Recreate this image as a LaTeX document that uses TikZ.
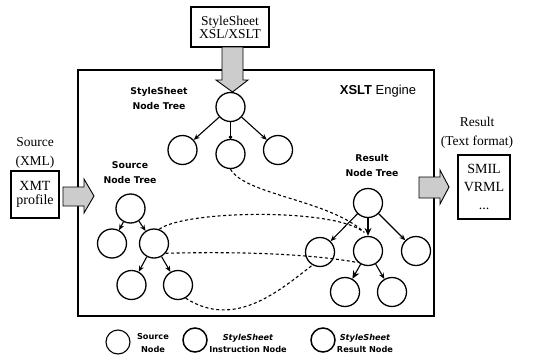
\documentclass[tikz,border=0pt]{standalone}
\usepackage{fontspec}
\setmainfont{Liberation Serif}
\newfontfamily\dvs{DejaVu Sans}
\newfontfamily\lsans{Liberation Sans}
\usetikzlibrary{arrows.meta,calc}
\begin{document}
\begin{tikzpicture}[x=1pt,y=-1pt,
  tn/.style={circle,draw,line width=1.3pt,minimum size=29pt,inner sep=0pt},
  lgc/.style={circle,draw,line width=1.1pt,minimum size=24pt,inner sep=0pt},
  edge/.style={line width=1.1pt,-{Stealth[length=6pt,width=5pt]}},
  bigedge/.style={line width=1.1pt,-{Stealth[length=8pt,width=7pt]}},
  dotedge/.style={line width=1.1pt,-{Circle[length=3.5pt]}},
  dl/.style={line width=1.1pt,dash pattern=on 3pt off 2.5pt},
  fat/.style={draw,line width=0.9pt,fill=gray!40},
  sbox/.style={draw,line width=1.1pt,align=center,inner sep=0pt},
  serlbl/.style={align=center,inner sep=0pt,font=\fontsize{13.5}{19}\selectfont},
  lbl/.style={align=center,inner sep=0pt,font=\dvs\bfseries\fontsize{9.3}{15}\selectfont},
  lgt/.style={align=center,inner sep=0pt,font=\dvs\bfseries\fontsize{8.2}{12.5}\selectfont}
]
\useasboundingbox (0,0) rectangle (535,356);

% engine frame
\node (eng) [draw,line width=1.4pt,minimum width=356pt,minimum height=246pt,inner sep=0pt] at (256,193) {};
\node (englbl) [inner sep=0pt,font=\lsans\fontsize{13}{13}\selectfont] at (378,91) {\textbf{XSLT} Engine};

% outside boxes
\node (ssbox) [sbox,minimum width=78pt,minimum height=40pt,font=\fontsize{13.5}{13}\selectfont] at (230,27) {StyleSheet\\XSL/XSLT};
\node (srclbl) [serlbl] at (35,152.5) {Source\\(XML)};
\node (xmt) [sbox,minimum width=48pt,minimum height=47pt,font=\fontsize{14}{14}\selectfont] at (35,194.5) {XMT\\profile};
\node (reslbl) [serlbl] at (477,133) {Result\\(Text format)};
\node (smil) [sbox,minimum width=52pt,minimum height=64pt,font=\fontsize{14}{18}\selectfont] at (484,187) {SMIL\\VRML\\...};

% fat arrows
\draw[fat] (222,47) -- (243,47) -- (243,80) -- (248,80) -- (232.5,92) -- (216,80) -- (222,80) -- cycle;
\draw[fat] (63,187) -- (84,187) -- (84,179) -- (94,196) -- (84,213) -- (84,206) -- (63,206) -- cycle;
\draw[fat] (419,177) -- (440,177) -- (440,170) -- (449,187) -- (440,204) -- (440,198) -- (419,198) -- cycle;

% tree labels
\node (sslbl) [lbl] at (159,99) {StyleSheet\\Node Tree};
\node (solbl) [lbl] at (130,172.5) {Source\\Node Tree};
\node (rslbl) [lbl] at (372,166) {Result\\Node Tree};

% stylesheet tree
\node (sr) [tn] at (230.5,107) {};
\node (ss1) [tn] at (182.5,150) {};
\node (ss2) [tn] at (230.5,154) {};
\node (ss3) [tn] at (278,150) {};
\draw[edge] (sr) -- (ss1);
\draw[dotedge] (sr) -- (ss2);
\draw[edge] (sr) -- (ss3);

% source tree
\node (sor) [tn] at (130.5,208.5) {};
\node (so1) [tn] at (112,243.5) {};
\node (so2) [tn] at (154,243.5) {};
\node (sg1) [tn] at (131.5,285) {};
\node (sg2) [tn] at (178,285) {};
\draw[edge] (sor) -- (so1);
\draw[edge] (sor) -- (so2);
\draw[edge] (so2) -- (sg1);
\draw[edge] (so2) -- (sg2);

% result tree
\node (rr) [tn] at (368,203) {};
\node (rc1) [tn] at (320,252) {};
\node (rc2) [tn] at (368,251) {};
\node (rc3) [tn] at (416,251) {};
\node (rg1) [tn] at (345,292) {};
\node (rg2) [tn] at (392,292) {};
\draw[edge] (rr) -- (rc1);
\draw[bigedge] (rr) -- (rc2);
\draw[edge] (rr) -- (rc3);
\draw[bigedge] (rc2) -- (rg1);
\draw[edge] (rc2) -- (rg2);

% dashed mapping lines
\draw[dl,shorten >=5pt] (ss2.south) .. controls (245,195) and (330,200) .. (rc2.north);
\draw[dl,shorten >=6pt] (so2.70) .. controls (185,210) and (335,208) .. (rc2.north);
\draw[dl] (so2.-40) .. controls (220,252) and (300,252) .. (rc2.-130);
\draw[dl] (sg2.-60) .. controls (235,330) and (280,290) .. (rc1.-120);

% legend
\node (l1) [lgc] at (118,342) {};
\node (t1) [lgt] at (153,343) {Source\\Node};
\node (l2) [lgc,line width=1.5pt] at (195,340) {};
\node (t2) [lgt] at (248,343.5) {\itshape StyleSheet\\Instruction Node};
\node (l3) [lgc,line width=1.5pt] at (323,340) {};
\node (t3) [lgt] at (365,343.5) {\itshape StyleSheet\\Result Node};
\end{tikzpicture}
\end{document}
